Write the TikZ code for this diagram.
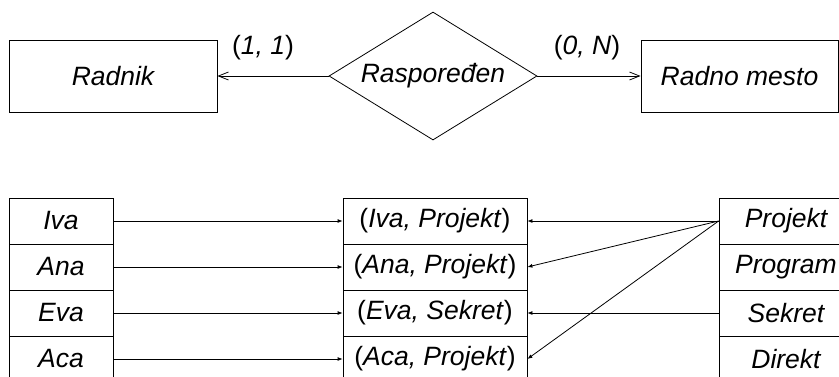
\documentclass[tikz,border=0pt]{standalone}
\usepackage{fontspec}
\setmainfont{Liberation Sans}
\usetikzlibrary{shapes.geometric,arrows.meta}
\begin{document}
\begin{tikzpicture}[x=1pt,y=-1pt,
  txt/.style={font=\fontsize{26.5}{31}\selectfont},
  ent/.style={txt,draw,line width=0.8pt,rectangle,inner sep=0pt,minimum height=72pt},
  rel/.style={txt,draw,line width=0.8pt,diamond,inner sep=0pt,shape aspect=1.625,minimum width=208pt,minimum height=128pt},
  cell/.style={txt,draw,line width=0.8pt,rectangle,inner sep=0pt,minimum height=46pt},
  bigarrow/.style={line width=0.8pt,-{Straight Barb[length=10pt,width=8pt,line width=0.8pt]}},
  smallarrow/.style={line width=0.8pt,-{Latex[length=5pt,width=4pt]}}]
\useasboundingbox (0,0) rectangle (839,376);
% top diagram
\node[ent,minimum width=208pt] (radnik) at (113,76) {\itshape Radnik};
\node[rel] (rasp) at (433,76) {\itshape Raspoređen};
\node[ent,minimum width=197pt] (mesto) at (739.5,76) {\itshape Radno mesto};
\draw[bigarrow] (rasp.west) -- (radnik.east);
\draw[bigarrow] (rasp.east) -- (mesto.west);
\node[txt] (k1) at (263,48) {(\textit{1, 1})};
\node[txt] (k2) at (587,48) {(\textit{0, N})};
% bottom: left column
\node[cell,minimum width=104pt] (L1) at (61,221) {\itshape Iva};
\node[cell,minimum width=104pt] (L2) at (61,267) {\itshape Ana};
\node[cell,minimum width=104pt] (L3) at (61,313) {\itshape Eva};
\node[cell,minimum width=104pt] (L4) at (61,359) {\itshape Aca};
% middle column
\node[cell,minimum width=184pt] (M1) at (435,221) {(\textit{Iva, Projekt})};
\node[cell,minimum width=184pt] (M2) at (435,267) {(\textit{Ana, Projekt})};
\node[cell,minimum width=184pt] (M3) at (435,313) {(\textit{Eva, Sekret})};
\node[cell,minimum width=184pt] (M4) at (435,359) {(\textit{Aca, Projekt})};
% right column
\node[cell,minimum width=134pt] (R1) at (786,221) {\itshape Projekt};
\node[cell,minimum width=134pt] (R2) at (786,267) {\itshape Program};
\node[cell,minimum width=134pt] (R3) at (786,313) {\itshape Sekret};
\node[cell,minimum width=134pt] (R4) at (786,359) {\itshape Direkt};
% connectors
\draw[smallarrow] (L1.east) -- (M1.west);
\draw[smallarrow] (L2.east) -- (M2.west);
\draw[smallarrow] (L3.east) -- (M3.west);
\draw[smallarrow] (L4.east) -- (M4.west);
\draw[smallarrow] (R1.west) -- (M1.east);
\draw[smallarrow] (R1.west) -- (M2.east);
\draw[smallarrow] (R3.west) -- (M3.east);
\draw[smallarrow] (R1.west) -- (M4.east);
\end{tikzpicture}
\end{document}
